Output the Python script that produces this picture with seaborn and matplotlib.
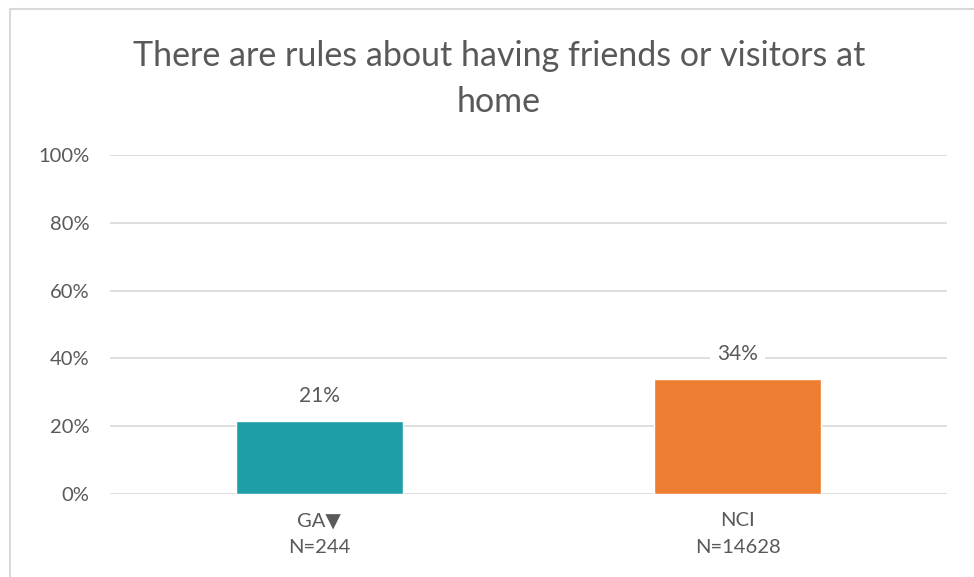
import matplotlib
matplotlib.use("Agg")
import matplotlib.pyplot as plt
import seaborn as sns
import pandas as pd
from matplotlib.patches import Rectangle

TITLE = "There are rules about having friends or visitors at\nhome"
CATEGORIES = ["GA\u25BC\nN=244", "NCI\nN=14628"]
VALUES = [21.4, 33.9]
LABELS = ["21%", "34%"]
COLORS = ["#209EA8", "#ED7D31"]
YTICKS = [0, 20, 40, 60, 80, 100]

TEXT_COLOR = "#595959"
GRID_COLOR = "#D9D9D9"


def main():
    sns.set_theme(style="white")
    plt.rcParams["font.family"] = ["Lato", "DejaVu Sans"]

    df = pd.DataFrame({"group": CATEGORIES, "value": VALUES})

    fig = plt.figure(figsize=(9.74, 5.77), dpi=100)
    ax = fig.add_axes([110 / 974, 1 - 494 / 577, 837 / 974, 339 / 577])

    sns.barplot(data=df, x="group", y="value", hue="group", palette=COLORS,
                width=0.40, legend=False, ax=ax, zorder=3, saturation=1)

    ax.set_ylim(0, 100)
    ax.set_xlim(-0.5, 1.5)
    ax.set_yticks(YTICKS)
    ax.set_yticklabels([f"{t}%" for t in YTICKS], fontsize=14.5, color=TEXT_COLOR)
    ax.tick_params(axis="y", length=0, pad=15)
    ax.tick_params(axis="x", length=0, pad=13, labelsize=14.5, labelcolor=TEXT_COLOR)
    for lbl in ax.get_xticklabels():
        lbl.set_linespacing(1.7)
    for t in YTICKS:
        ax.axhline(t, color=GRID_COLOR, lw=1.2, zorder=1)
    for s in ax.spines.values():
        s.set_visible(False)
    ax.set_xlabel("")
    ax.set_ylabel("")

    for i, (v, lab) in enumerate(zip(VALUES, LABELS)):
        ax.annotate(lab, (i, v), xytext=(0, 18), textcoords="offset points",
                    ha="center", va="center", fontsize=15, color=TEXT_COLOR,
                    zorder=4,
                    bbox=dict(boxstyle="square,pad=0.35", fc="white", ec="none"))

    fig.text(0.512, 1 - 79 / 577, TITLE, ha="center", va="center",
             fontsize=24.5, color=TEXT_COLOR, linespacing=1.55)

    fig.patches.append(Rectangle((10 / 974, -0.05), 1.1, 1 - 9 / 577 + 0.05,
                                 transform=fig.transFigure, fill=False,
                                 ec=GRID_COLOR, lw=1.5))

    fig.savefig("out.png", dpi=100)


if __name__ == "__main__":
    main()
